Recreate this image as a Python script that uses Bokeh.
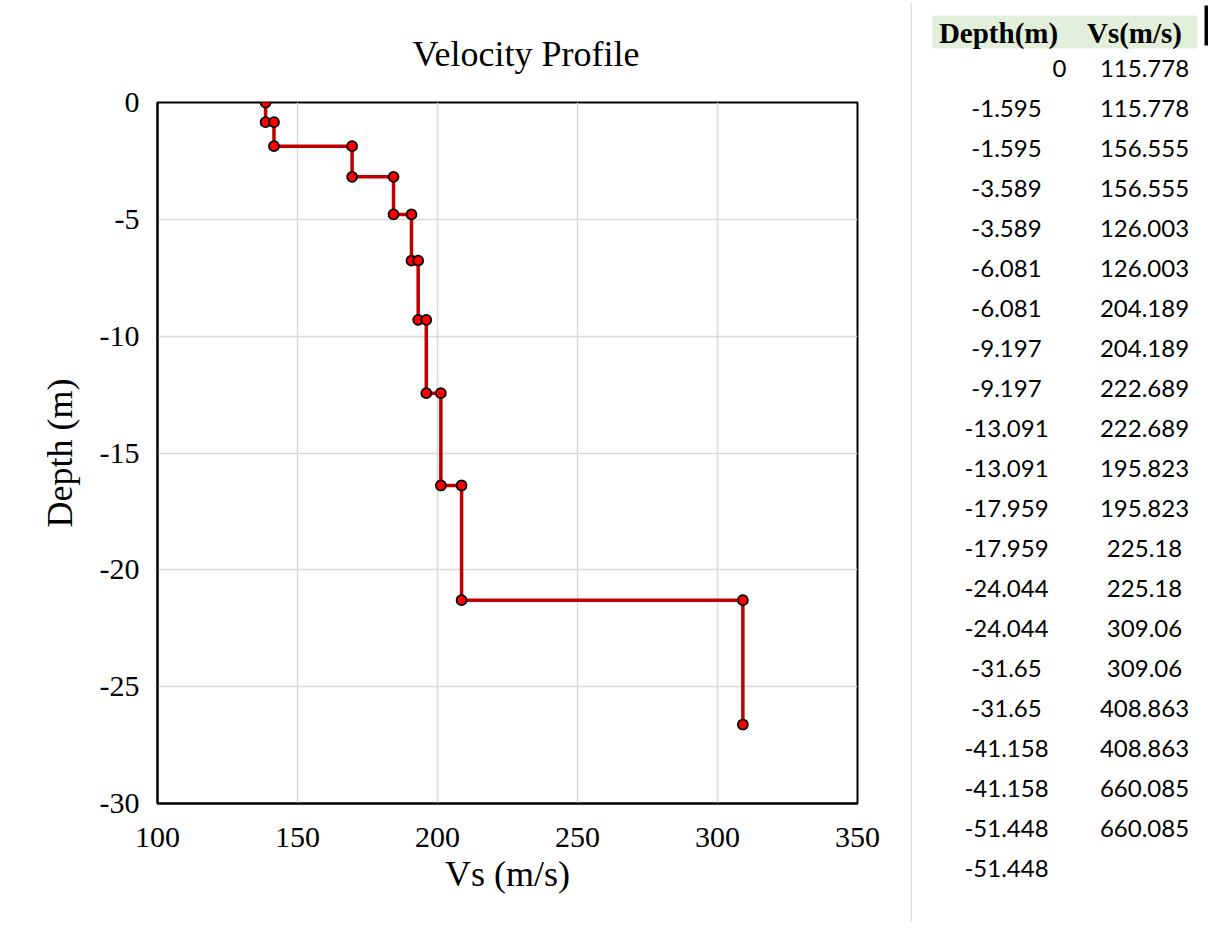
from bokeh.plotting import figure
from bokeh.layouts import row
from bokeh.models import Range1d, FixedTicker, ColumnDataSource
from bokeh.core.properties import value
from bokeh.embed import file_html
from bokeh.resources import INLINE

# ---- chart data (read from the plotted profile) ----
vs = [138.6, 138.6, 141.6, 141.6, 169.5, 169.5, 184.3, 184.3, 190.7, 190.7,
      193.1, 193.1, 196.0, 196.0, 201.2, 201.2, 208.6, 208.6, 309.06, 309.06]
depth = [0.0, -0.84, -0.84, -1.87, -1.87, -3.18, -3.18, -4.79, -4.79, -6.77,
         -6.77, -9.30, -9.30, -12.44, -12.44, -16.39, -16.39, -21.30, -21.30, -26.62]
x_ticks = [100, 150, 200, 250, 300, 350]
x_tick_labels = ["100", "150", "200", "250", "300", "350"]
y_ticks = [0, -5, -10, -15, -20, -25, -30]
y_tick_labels = ["0", "-5", "-10", "-15", "-20", "-25", "-30"]

# ---- table data (spreadsheet cells to the right) ----
table_headers = ["Depth(m)", "Vs(m/s)"]
table_depth = ["0", "-1.595", "-1.595", "-3.589", "-3.589", "-6.081", "-6.081",
               "-9.197", "-9.197", "-13.091", "-13.091", "-17.959", "-17.959",
               "-24.044", "-24.044", "-31.65", "-31.65", "-41.158", "-41.158",
               "-51.448", "-51.448"]
table_vs = ["115.778", "115.778", "156.555", "156.555", "126.003", "126.003",
            "204.189", "204.189", "222.689", "222.689", "195.823", "195.823",
            "225.18", "225.18", "309.06", "309.06", "408.863", "408.863",
            "660.085", "660.085"]

SERIF = value("Liberation Serif")
LATO = value("Lato")

# ---------------- chart ----------------
p = figure(width=910, height=922, output_backend="svg", toolbar_location=None,
           x_range=Range1d(100, 350), y_range=Range1d(-30, 0),
           min_border_left=157, min_border_right=53, min_border_top=102,
           min_border_bottom=119, title="Velocity Profile")
p.frame_align = False
p.background_fill_color = "white"
p.border_fill_color = "white"
p.outline_line_color = "black"
p.outline_line_width = 2

p.title.align = "left"
p.title.offset = 255
p.title.standoff = 57
p.title.text_font = "Liberation Serif"
p.title.text_font_size = "36px"
p.title.text_font_style = "normal"
p.title.text_color = "black"

p.xaxis.ticker = FixedTicker(ticks=x_ticks)
p.yaxis.ticker = FixedTicker(ticks=y_ticks)
p.xaxis.major_label_overrides = dict(zip(x_ticks, x_tick_labels))
p.yaxis.major_label_overrides = dict(zip(y_ticks, y_tick_labels))
p.xaxis.axis_label = "Vs (m/s)"
p.yaxis.axis_label = "Depth (m)"
for ax in (p.xaxis, p.yaxis):
    ax.axis_line_color = "black"
    ax.axis_line_width = 2
    ax.major_tick_line_color = None
    ax.minor_tick_line_color = None
    ax.major_label_text_font = "Liberation Serif"
    ax.major_label_text_font_size = "30px"
    ax.major_label_text_color = "black"
    ax.axis_label_text_font = "Liberation Serif"
    ax.axis_label_text_font_size = "36px"
    ax.axis_label_text_font_style = "normal"
    ax.axis_label_text_color = "black"
p.xaxis.major_label_standoff = 18
p.xaxis.axis_label_standoff = 4
p.yaxis.major_label_standoff = 12
p.yaxis.axis_label_standoff = 17

p.grid.grid_line_color = "#d9d9d9"
p.grid.grid_line_width = 1.5

src = ColumnDataSource(dict(vs=vs, depth=depth))
p.line("vs", "depth", source=src, line_color="#c00000", line_width=3.5)
p.scatter("vs", "depth", source=src, size=10, fill_color="#ff0000",
          line_color="black", line_width=1.75)

# ---------------- table ----------------
t = figure(width=299, height=922, output_backend="svg", toolbar_location=None,
           x_range=Range1d(910, 1209), y_range=Range1d(922, 0),
           min_border_left=0, min_border_right=0, min_border_top=0, min_border_bottom=0)
t.frame_align = False
t.axis.visible = False
t.grid.visible = False
t.outline_line_color = None
t.background_fill_color = "white"
t.border_fill_color = "white"

# chart-area border on the left of the table region
t.segment(x0=[910.5], y0=[2], x1=[910.5], y1=[922], line_color="#d9d9d9", line_width=1.5)
# header fill and selection bar
t.quad(left=[932], right=[1197], top=[15], bottom=[48], fill_color="#e2efda", line_color=None)
t.quad(left=[1204], right=[1207.5], top=[5], bottom=[45], fill_color="black", line_color=None)

t.text(x=[998, 1134], y=[32, 32], text=table_headers, text_align="center",
       text_baseline="middle", text_font=SERIF, text_font_style="bold",
       text_font_size="29px", text_color="black")

row_y = [68 + 40 * i for i in range(len(table_depth))]
# first depth cell is numeric (right aligned), the rest are centred text
t.text(x=[1066], y=[row_y[0]], text=[table_depth[0]], text_align="right",
       text_baseline="middle", text_font=LATO, text_font_size="24px", text_color="black")
t.text(x=[1006] * (len(table_depth) - 1), y=row_y[1:], text=table_depth[1:],
       text_align="center", text_baseline="middle", text_font=LATO,
       text_font_size="24px", text_color="black")
t.text(x=[1144] * len(table_vs), y=row_y[:len(table_vs)], text=table_vs,
       text_align="center", text_baseline="middle", text_font=LATO,
       text_font_size="24px", text_color="black")

layout = row(p, t)
open("out.html", "w").write(file_html(layout, INLINE))
